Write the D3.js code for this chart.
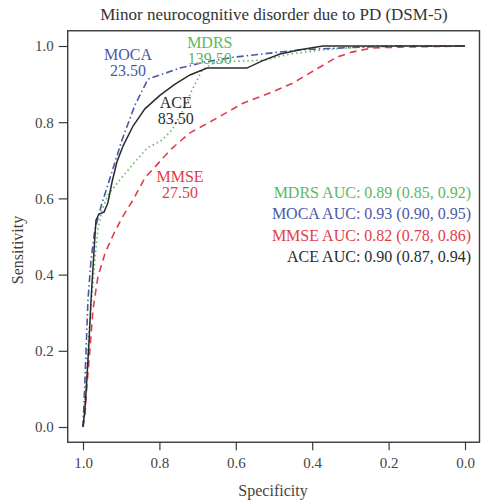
<!DOCTYPE html>
<html>
<head>
<meta charset="utf-8">
<script src="https://d3js.org/d3.v7.min.js"></script>
<style>
  body { margin: 0; background: #fff; }
  svg { display: block; font-family: "Liberation Serif", "DejaVu Serif", serif; }
</style>
</head>
<body>
<svg id="chart" width="481" height="504"></svg>
<script>
// ROC curves (specificity, sensitivity)
const mocaSpec = [1.000, 0.997, 0.992, 0.987, 0.979, 0.969, 0.953, 0.927, 0.898, 0.864, 0.830, 0.746, 0.681, 0.602, 0.432, 0.275, 0.170, 0.000];
const mocaSens = [0.000, 0.071, 0.202, 0.333, 0.438, 0.517, 0.578, 0.661, 0.753, 0.845, 0.913, 0.942, 0.958, 0.971, 0.990, 0.997, 1.000, 1.000];

const aceSpec = [1.000, 0.995, 0.990, 0.984, 0.979, 0.971, 0.966, 0.958, 0.945, 0.935, 0.924, 0.911, 0.895, 0.869, 0.838, 0.798, 0.759, 0.720, 0.675, 0.571, 0.531, 0.484, 0.432, 0.372, 0.000];
const aceSens = [0.000, 0.045, 0.123, 0.228, 0.333, 0.465, 0.543, 0.559, 0.564, 0.588, 0.643, 0.696, 0.738, 0.790, 0.835, 0.871, 0.900, 0.924, 0.942, 0.942, 0.961, 0.979, 0.990, 1.000, 1.000];

const mdrsSpec = [1.000, 0.995, 0.990, 0.984, 0.976, 0.969, 0.961, 0.950, 0.935, 0.908, 0.869, 0.832, 0.793, 0.767, 0.738, 0.712, 0.688, 0.654, 0.524, 0.458, 0.353, 0.223, 0.000];
const mdrsSens = [0.000, 0.071, 0.150, 0.255, 0.352, 0.438, 0.517, 0.570, 0.609, 0.643, 0.690, 0.732, 0.753, 0.780, 0.832, 0.890, 0.937, 0.958, 0.963, 0.979, 0.992, 1.000, 1.000];

const mmseSpec = [1.000, 0.995, 0.990, 0.982, 0.974, 0.961, 0.942, 0.921, 0.898, 0.869, 0.838, 0.812, 0.772, 0.720, 0.649, 0.581, 0.510, 0.450, 0.393, 0.335, 0.296, 0.243, 0.170, 0.000];
const mmseSens = [0.000, 0.031, 0.105, 0.202, 0.307, 0.394, 0.457, 0.504, 0.549, 0.596, 0.654, 0.682, 0.727, 0.772, 0.811, 0.850, 0.877, 0.903, 0.937, 0.971, 0.984, 0.995, 0.997, 1.000];

// threshold labels: name, cut-off, anchor of first line (spec, sens)
const thresholdNames = ['MOCA', 'MDRS', 'ACE', 'MMSE'];
const thresholdValues = ['23.50', '139.50', '83.50', '27.50'];
const thresholdSpec = [0.882, 0.668, 0.757, 0.746];
const thresholdSens = [0.963, 0.995, 0.837, 0.643];

const aucLines = [
  'MDRS AUC: 0.89 (0.85, 0.92)',
  'MOCA AUC: 0.93 (0.90, 0.95)',
  'MMSE AUC: 0.82 (0.78, 0.86)',
  'ACE AUC: 0.90 (0.87, 0.94)'
];

const tickValues = [1.0, 0.8, 0.6, 0.4, 0.2, 0.0];

const colors = { MDRS: '#5cb85c', MOCA: '#4a58a8', MMSE: '#e23c4a', ACE: '#2b2b2b' };

const svg = d3.select('#chart');

const x = d3.scaleLinear().domain([1, 0]).range([83, 465]);
const y = d3.scaleLinear().domain([0, 1]).range([427, 46]);

// plot frame (R style, 4% padding)
svg.append('rect')
  .attr('x', x(1.04)).attr('y', y(1.04))
  .attr('width', Math.min(x(-0.04), 479.5) - x(1.04))
  .attr('height', y(-0.04) - y(1.04))
  .attr('fill', 'none').attr('stroke', '#3a3a3a').attr('stroke-width', 1.4);

// axes
const xAxis = svg.append('g')
  .attr('transform', `translate(0,${y(-0.04)})`)
  .call(d3.axisBottom(x).tickValues(tickValues).tickFormat(d3.format('.1f')).tickSize(8).tickPadding(7));
const yAxis = svg.append('g')
  .attr('transform', `translate(${x(1.04)},0)`)
  .call(d3.axisLeft(y).tickValues(tickValues).tickFormat(d3.format('.1f')).tickSize(9).tickPadding(5));

[xAxis, yAxis].forEach(g => {
  g.select('.domain').remove();
  g.selectAll('line').attr('stroke', '#3a3a3a').attr('stroke-width', 1.2);
  g.selectAll('text').attr('fill', '#444').style('font-size', '15px')
    .style('font-family', '"Liberation Serif", serif');
});

// titles
svg.append('text')
  .attr('x', 274).attr('y', 20)
  .attr('text-anchor', 'middle').attr('fill', '#333').style('font-size', '17px')
  .text('Minor neurocognitive disorder due to PD (DSM-5)');

svg.append('text')
  .attr('x', 273).attr('y', 496)
  .attr('text-anchor', 'middle').attr('fill', '#444').style('font-size', '16px')
  .text('Specificity');

svg.append('text')
  .attr('transform', 'translate(23,250) rotate(-90)')
  .attr('text-anchor', 'middle').attr('fill', '#444').style('font-size', '16px')
  .text('Sensitivity');

// curves
const line = d3.line().x(d => x(d[0])).y(d => y(d[1]));

const curves = [
  { name: 'MMSE', spec: mmseSpec, sens: mmseSens, dash: '7,5' },
  { name: 'MDRS', spec: mdrsSpec, sens: mdrsSens, dash: '1.5,3' },
  { name: 'MOCA', spec: mocaSpec, sens: mocaSens, dash: '7,3,1.5,3' },
  { name: 'ACE', spec: aceSpec, sens: aceSens, dash: null }
];

curves.forEach(c => {
  svg.append('path')
    .datum(d3.zip(c.spec, c.sens))
    .attr('d', line)
    .attr('fill', 'none')
    .attr('stroke', colors[c.name])
    .attr('stroke-width', c.name === 'ACE' ? 1.5 : 1.6)
    .attr('stroke-dasharray', c.dash);
});

// threshold labels
thresholdNames.forEach((name, i) => {
  const g = svg.append('text')
    .attr('text-anchor', 'middle').attr('fill', colors[name]).style('font-size', '16px');
  g.append('tspan').attr('x', x(thresholdSpec[i])).attr('y', y(thresholdSens[i])).text(name);
  g.append('tspan').attr('x', x(thresholdSpec[i])).attr('dy', 16).text(thresholdValues[i]);
});

// AUC legend
aucLines.forEach((t, i) => {
  const name = t.split(' ')[0];
  svg.append('text')
    .attr('x', 471).attr('y', 198 + i * 21.3)
    .attr('text-anchor', 'end').attr('fill', colors[name]).style('font-size', '16px')
    .text(t);
});
</script>
</body>
</html>
